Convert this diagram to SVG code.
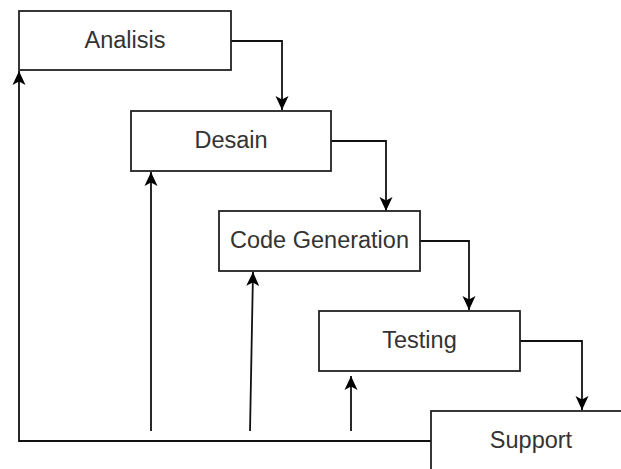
<svg xmlns="http://www.w3.org/2000/svg" width="621" height="469" viewBox="0 0 621 469">
<style>
.box{fill:#fff;stroke:#222;stroke-width:1.8}
.lbl{font-family:"Liberation Sans",Arial,sans-serif;font-size:23.5px;fill:#333;text-anchor:middle}
.ln{fill:none;stroke:#111;stroke-width:1.8}
</style>
<defs>
<marker id="ah" viewBox="0 0 14 14" refX="14" refY="7" markerWidth="14" markerHeight="14" markerUnits="userSpaceOnUse" orient="auto">
<path d="M0,0.5 L14,7 L0,13.5 L3.5,7 Z" fill="#000"/>
</marker>
</defs>
<rect width="621" height="469" fill="#fff"/>
<g id="connectors">
<path class="ln" d="M231,41 H282 V110" marker-end="url(#ah)"/>
<path class="ln" d="M331,141 H386 V211" marker-end="url(#ah)"/>
<path class="ln" d="M420,241 H469 V310" marker-end="url(#ah)"/>
<path class="ln" d="M520,341 H582 V410" marker-end="url(#ah)"/>
<path class="ln" d="M431,441 H19 V71" marker-end="url(#ah)"/>
<path class="ln" d="M151,431 V172" marker-end="url(#ah)"/>
<path class="ln" d="M250,431 L253,272" marker-end="url(#ah)"/>
<path class="ln" d="M351,431 V376" marker-end="url(#ah)"/>
</g>
<g id="analisis"><rect class="box" x="19" y="11" width="212" height="59"/><text class="lbl" x="125" y="48">Analisis</text></g>
<g id="desain"><rect class="box" x="131" y="111" width="200" height="60"/><text class="lbl" x="231" y="148">Desain</text></g>
<g id="code-generation"><rect class="box" x="219" y="211" width="201" height="60"/><text class="lbl" x="319.5" y="248">Code Generation</text></g>
<g id="testing"><rect class="box" x="319" y="311" width="201" height="60"/><text class="lbl" x="419.5" y="348">Testing</text></g>
<g id="support"><rect class="box" x="431" y="411" width="200" height="70"/><text class="lbl" x="531" y="448">Support</text></g>
</svg>
